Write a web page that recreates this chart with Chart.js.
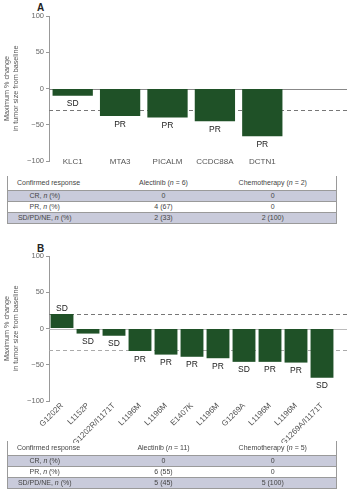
<!DOCTYPE html>
<html>
<head>
<meta charset="utf-8">
<script src="https://cdn.jsdelivr.net/npm/chart.js@4/dist/chart.umd.min.js"></script>
<style>
  body { margin: 0; width: 347px; height: 500px; background: #fff; position: relative; overflow: hidden;
         font-family: "Liberation Sans", Arial, sans-serif; }
  canvas { position: absolute; left: 0; }
  .tag { position: absolute; left: 37px; font-weight: bold; font-size: 10px; color: #222; }
  table { position: absolute; left: 7px; width: 329px; border-collapse: collapse; table-layout: fixed;
          font-size: 7px; color: #444; }
  td { padding: 0; text-align: center; border-top: 1px solid #9a9a9a; height: 10px; line-height: 10px; }
  tr:first-child td { border-top: none; height: 14px; }
  tr:last-child td { border-bottom: 1px solid #9a9a9a; }
  td:first-child { border-left: 1px solid #9a9a9a; padding-right: 36px; }
  td:last-child { border-right: 1px solid #9a9a9a; }
  tr:first-child td:first-child { text-align: left; padding-left: 9px; padding-right: 0; }
  tr.fill td { background: #c9cbdb; }
</style>
</head>
<body>
<div class="tag" style="top:2px">A</div>
<canvas id="chartA" width="347" height="172" style="top:0"></canvas>
<table id="tableA" style="top:176px"></table>
<div class="tag" style="top:243px">B</div>
<canvas id="chartB" width="347" height="205" style="top:238px"></canvas>
<table id="tableB" style="top:441px"></table>
<script>
// panel A
const genesA = ["KLC1", "MTA3", "PICALM", "CCDC88A", "DCTN1"];
const changeA = [-10, -38, -40, -45, -66];
const responseA = ["SD", "PR", "PR", "PR", "PR"];
const refLinesA = [-30];

// panel B
const mutationsB = ["G1202R", "L1152P", "G1202R/I1171T", "L1196M", "L1196M", "E1407K",
  "L1196M", "G1269A", "L1196M", "L1196M", "G1269A/I1171T"];
const changeB = [20, -7, -10, -31, -36, -39, -41, -46, -46, -47, -68];
const responseB = ["SD", "SD", "SD", "PR", "PR", "PR", "PR", "SD", "PR", "PR", "SD"];
const refLinesB = [20, -30];

// tables
const tableHeadA = ["Confirmed response", "Alectinib (<i>n</i> = 6)", "Chemotherapy (<i>n</i> = 2)"];
const tableRowsA = [
  ["CR, <i>n</i> (%)", "0", "0"],
  ["PR, <i>n</i> (%)", "4 (67)", "0"],
  ["SD/PD/NE, <i>n</i> (%)", "2 (33)", "2 (100)"]
];
const tableHeadB = ["Confirmed response", "Alectinib (<i>n</i> = 11)", "Chemotherapy (<i>n</i> = 5)"];
const tableRowsB = [
  ["CR, <i>n</i> (%)", "0", "0"],
  ["PR, <i>n</i> (%)", "6 (55)", "0"],
  ["SD/PD/NE, <i>n</i> (%)", "5 (45)", "5 (100)"]
];

const FONT = '"Liberation Sans", Arial, sans-serif';
const GREEN = "#1f5127";

function buildTable(id, head, rows) {
  const t = document.getElementById(id);
  let html = '<colgroup><col style="width:110px"><col style="width:92px"><col style="width:127px"></colgroup>';
  html += "<tr>" + head.map(h => "<td>" + h + "</td>").join("") + "</tr>";
  rows.forEach((r, i) => {
    html += '<tr class="' + (i % 2 === 0 ? "fill" : "") + '">' + r.map(c => "<td>" + c + "</td>").join("") + "</tr>";
  });
  t.innerHTML = html;
}
buildTable("tableA", tableHeadA, tableRowsA);
buildTable("tableB", tableHeadB, tableRowsB);

// zero line + dashed thresholds, running to the right edge of the canvas
const refLines = {
  id: "refLines",
  beforeDatasetsDraw(chart, args, opts) {
    const ctx = chart.ctx;
    const y = chart.scales.y;
    const left = chart.chartArea.left;
    ctx.save();
    ctx.lineWidth = 1;
    ctx.strokeStyle = opts.zeroColor;
    ctx.beginPath();
    ctx.moveTo(left, Math.round(y.getPixelForValue(0)) + 0.5);
    ctx.lineTo(chart.width, Math.round(y.getPixelForValue(0)) + 0.5);
    ctx.stroke();
    opts.lines.forEach((v, i) => {
      const py = Math.round(y.getPixelForValue(v)) + 0.5;
      ctx.strokeStyle = opts.colors[i];
      ctx.setLineDash([4, 3]);
      ctx.beginPath();
      ctx.moveTo(left, py);
      ctx.lineTo(chart.width, py);
      ctx.stroke();
    });
    ctx.restore();
  }
};

const barLabels = {
  id: "barLabels",
  afterDatasetsDraw(chart, args, opts) {
    const ctx = chart.ctx;
    const meta = chart.getDatasetMeta(0);
    const vals = chart.data.datasets[0].data;
    ctx.save();
    ctx.font = "8.5px " + FONT;
    ctx.fillStyle = "#222";
    ctx.textAlign = "center";
    meta.data.forEach((bar, i) => {
      if (vals[i] >= 0) {
        ctx.textBaseline = "bottom";
        ctx.fillText(opts.labels[i], bar.x, bar.y - 1);
      } else {
        ctx.textBaseline = "top";
        ctx.fillText(opts.labels[i], bar.x, bar.y + 4);
      }
    });
    ctx.restore();
  }
};

function makeChart(id, labels, values, responses, lines, lineColors, zeroColor, pad, barPct, rotate) {
  return new Chart(document.getElementById(id), {
    type: "bar",
    data: {
      labels: labels,
      datasets: [{ data: values, backgroundColor: GREEN, borderWidth: 0,
                   categoryPercentage: 1, barPercentage: barPct }]
    },
    options: {
      responsive: false,
      animation: false,
      layout: { padding: pad },
      plugins: {
        legend: { display: false },
        tooltip: { enabled: false },
        refLines: { lines: lines, colors: lineColors, zeroColor: zeroColor },
        barLabels: { labels: responses }
      },
      scales: {
        x: {
          position: { y: -100 },
          grid: { display: false, drawTicks: false },
          border: { display: false },
          ticks: {
            color: "#555", font: { family: FONT, size: 8 },
            autoSkip: false,
            minRotation: rotate, maxRotation: rotate,
            padding: rotate ? 0 : -4
          }
        },
        y: {
          min: -100, max: 100,
          afterFit: s => { s.width = 49; },
          border: { color: "#999" },
          grid: { drawOnChartArea: false, tickLength: 3, color: "#999" },
          ticks: {
            stepSize: 50, padding: 2, color: "#666",
            font: { family: FONT, size: 7.5 },
            callback: v => String(v).replace("-", "\u2212")
          },
          title: {
            display: true,
            text: ["Maximum % change", "in tumor size from baseline"],
            color: "#555", font: { family: FONT, size: 7.2 }, padding: { top: 3, bottom: 0 }
          }
        }
      }
    },
    plugins: [refLines, barLabels]
  });
}

makeChart("chartA", genesA, changeA, responseA, refLinesA, ["#777"], "#888",
  { top: 16, bottom: 11, left: 0, right: 61 }, 0.85, 0);
makeChart("chartB", mutationsB, changeB, responseB, refLinesB, ["#777", "#aaa"], "#bbb",
  { top: 18, bottom: 42, left: 0, right: 12 }, 0.88, 45);
</script>
</body>
</html>
